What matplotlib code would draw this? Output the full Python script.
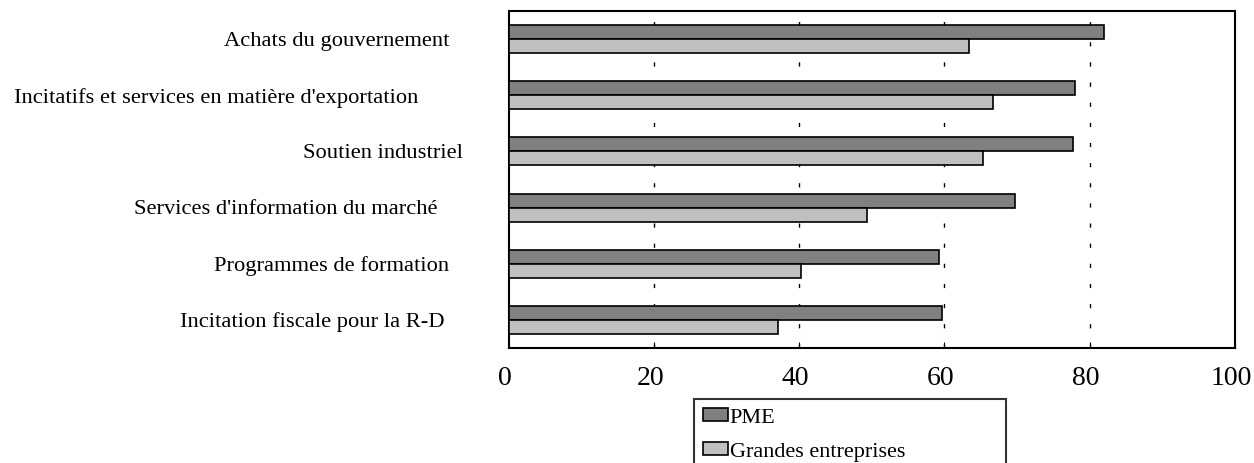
import matplotlib
matplotlib.use('Agg')
import matplotlib.pyplot as plt
import matplotlib.transforms as mtransforms
import numpy as np

plt.rcParams['font.family'] = 'Liberation Serif'

# Donnees
categories = ['Achats du gouvernement',
              "Incitatifs et services en matière d'exportation",
              'Soutien industriel',
              "Services d'information du marché",
              'Programmes de formation',
              'Incitation fiscale pour la R-D']
pme = [82.0, 78.0, 77.7, 69.7, 59.2, 59.7]
grandes = [63.4, 66.7, 65.3, 49.4, 40.2, 37.1]
xticks = [0, 20, 40, 60, 80, 100]

# decalage (px) du bord droit des libelles par rapport a l'axe
label_offsets = [59.5, 90.5, 45.5, 70.5, 59.5, 64.5]

fig = plt.figure(figsize=(12.54, 4.64), dpi=100)
ax = fig.add_axes([508.5/1254, 1 - 349/464, (1235 - 508.5)/1254, (349 - 12)/464])

n = len(categories)
y = np.arange(n)[::-1]
h = 0.25

ax.barh(y + h/2, pme, h, color='#808080', edgecolor='black', linewidth=1.2,
        label='PME', zorder=3)
ax.barh(y - h/2, grandes, h, color='#c0c0c0', edgecolor='black', linewidth=1.2,
        label='Grandes entreprises', zorder=3)

ax.set_xlim(0, 100)
ax.set_ylim(-0.5, n - 0.5)
ax.set_xticks(xticks)
ax.set_xticklabels([str(t) for t in xticks], fontsize=20)
ax.tick_params(axis='x', direction='in', length=4, width=0.8, pad=12)
ax.set_yticks([])

# petit decalage a gauche des etiquettes de l'axe x
shift = mtransforms.ScaledTranslation(-3.5/100, 0, fig.dpi_scale_trans)
for lbl in ax.get_xticklabels():
    lbl.set_transform(lbl.get_transform() + shift)

# grille pointillee
for t in xticks[1:-1]:
    ax.axvline(t, color='black', linewidth=1, dashes=(3, 11.5), zorder=1)

for s in ax.spines.values():
    s.set_linewidth(1.5)

# libelles des categories
tr = mtransforms.blended_transform_factory(ax.transAxes, ax.transData)
for yi, lab, off in zip(y, categories, label_offsets):
    ax.annotate(lab, xy=(0, yi), xycoords=tr, xytext=(-off * 0.72, -1),
                textcoords='offset points', ha='right', va='center', fontsize=16.2)

leg = fig.legend(loc='upper left', bbox_to_anchor=(694/1254, 0, 312/1254, 1 - 400/464),
                 bbox_transform=fig.transFigure, mode='expand', borderaxespad=0,
                 fontsize=16, frameon=True, fancybox=False, edgecolor='black',
                 handlelength=1.13, handleheight=0.54, handletextpad=0.08,
                 labelspacing=0.64, borderpad=0.4)
leg.get_frame().set_linewidth(1.5)

plt.savefig('out.png', dpi=100)
